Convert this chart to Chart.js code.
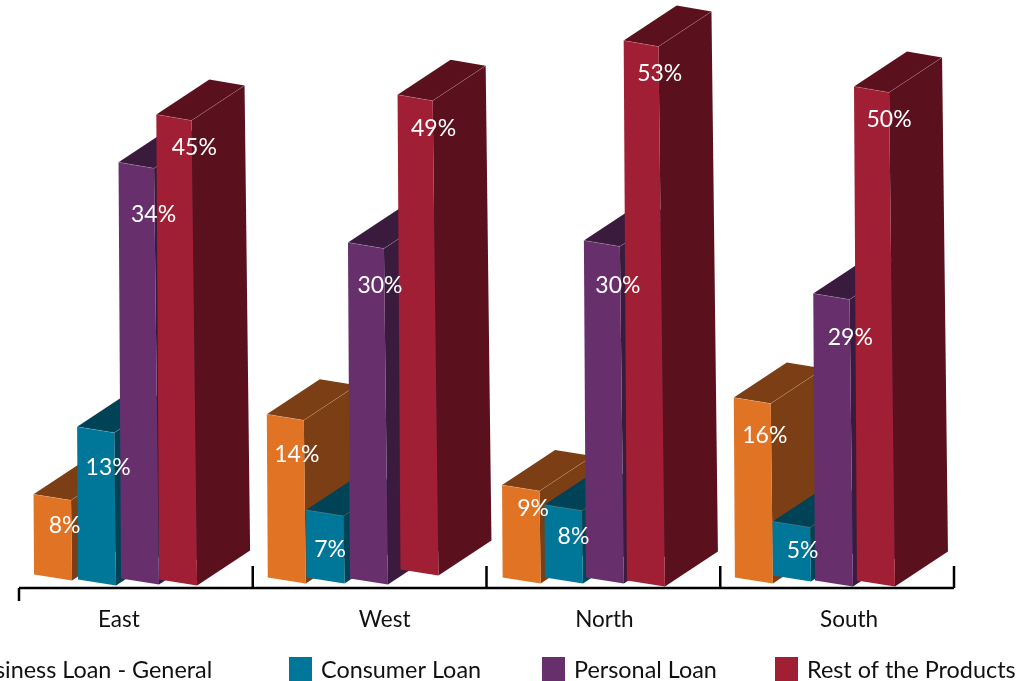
<!DOCTYPE html>
<html>
<head>
<meta charset="utf-8">
<title>Loan mix by region</title>
<script src="https://cdn.jsdelivr.net/npm/chart.js@4/dist/chart.umd.js"></script>
<style>
    html, body { margin: 0; padding: 0; background: #fff; overflow: hidden; }
    #chart { display: block; }
</style>
</head>
<body>
<canvas id="chart" width="1035" height="681"></canvas>
<script>
const categories = ["East", "West", "North", "South"];
const seriesNames = ["Business Loan - General", "Consumer Loan", "Personal Loan", "Rest of the Products"];

// --- Percentages printed on the bars ---
const businessLabels = [8, 14, 9, 16];
const consumerLabels = [13, 7, 8, 5];
const personalLabels = [34, 30, 30, 29];
const restLabels = [45, 49, 53, 50];

// --- Bar heights as drawn in the source, same % units ---
// the source graphic is not to scale with its printed labels
const businessHeights = [8.0, 15.7, 8.9, 17.3];
const consumerHeights = [14.5, 6.5, 7.0, 5.4];
const personalHeights = [39.9, 32.2, 32.4, 27.3];
const restHeights = [44.5, 46.4, 51.6, 47.2];

const frontColors = ["#E17325", "#007699", "#67306D", "#A01F34"];
const sideColors = ["#7C3E14", "#004256", "#3A1B3E", "#5A111D"];

// --- Look of the extruded bars ---
const FONT = 'Lato, "Noto Sans", sans-serif';
const DEPTH_X = 53, DEPTH_Y = -35;
const SHIFT_X = -20;        // fronts sit left of the band centre, depth fills the rest
const SKEW_Y = 6;           // right edge of a front sits lower than its left edge

// the source was hand placed, so each bar is a little off the even grid
// rows follow seriesNames, columns follow categories
const nudgeX = [[-0.6, -0.6, 0.5, -1], [1.9, -3.4, 1.3, -4.4], [3.4, -1.4, 0.8, -3.9], [0, 7.6, 0.3, -3.4]];
const nudgeBase = [[-3, 0, 0, 0], [2, 0, 0, -2], [1, 1, 0, 3], [2, -8, 3, 3]];
const labelDx = [[31, 30, 31, 31], [31, 24, 29, 30], [35, 32, 34, 37], [38, 36, 36, 35]];
const labelDy = [[31, 40, 24, 38], [41, 40, 32, 29], [52, 43, 45, 44], [33, 34, 33, 33]];
const axisLabelDx = [-17, 15, 1, 12];
const legendX = [-65, 289, 542, 775];

function quad(ctx, pts, color) {
    ctx.beginPath();
    ctx.moveTo(pts[0][0], pts[0][1]);
    pts.slice(1).forEach(p => ctx.lineTo(p[0], p[1]));
    ctx.closePath();
    ctx.fillStyle = color;
    ctx.fill();
}

function seam(ctx, a, b) {
    ctx.beginPath();
    ctx.moveTo(a[0], a[1]);
    ctx.lineTo(b[0], b[1]);
    ctx.strokeStyle = "rgba(255,255,255,0.22)";
    ctx.lineWidth = 0.7;
    ctx.stroke();
}

const bars3d = {
    id: "bars3d",
    beforeDatasetsDraw(chart) {
        const ctx = chart.ctx;
        const back = p => [p[0] + DEPTH_X, p[1] + DEPTH_Y];
        const topLeft = (bar, i, j) => {
            const left = bar.x - bar.width / 2 + SHIFT_X + nudgeX[i][j];
            return [left - (bar.base - bar.y) * 0.006, bar.y];
        };
        chart.data.datasets.forEach((ds, i) => {
            chart.getDatasetMeta(i).data.forEach((bar, j) => {
                const left = bar.x - bar.width / 2 + SHIFT_X + nudgeX[i][j];
                const bottom = bar.base + nudgeBase[i][j];
                const h = bar.base - bar.y;
                const bl = [left, bottom];
                const br = [left + bar.width, bottom + SKEW_Y];
                const tl = topLeft(bar, i, j);
                const tr = [left + bar.width - h * 0.012, bar.y + SKEW_Y];
                quad(ctx, [tr, back(tr), back(br), br], sideColors[i]);
                quad(ctx, [tl, back(tl), back(tr), tr], sideColors[i]);
                quad(ctx, [tl, tr, br, bl], frontColors[i]);
                seam(ctx, tr, back(tr));
                seam(ctx, tl, tr);
            });
        });
        // value labels go over every bar
        ctx.font = "23px " + FONT;
        ctx.fillStyle = "#fff";
        ctx.textAlign = "center";
        ctx.textBaseline = "middle";
        chart.data.datasets.forEach((ds, i) => {
            chart.getDatasetMeta(i).data.forEach((bar, j) => {
                const tl = topLeft(bar, i, j);
                ctx.fillText(ds.printed[j] + "%", tl[0] + labelDx[i][j], tl[1] + labelDy[i][j]);
            });
        });
        return false;
    }
};

const axisAndLegend = {
    id: "axisAndLegend",
    afterDraw(chart) {
        const ctx = chart.ctx;
        const xs = chart.scales.x;
        const band = (xs.right - xs.left) / categories.length;
        const y0 = chart.chartArea.bottom;

        ctx.strokeStyle = "#000";
        ctx.lineWidth = 2.5;
        ctx.beginPath();
        ctx.moveTo(xs.left, y0);
        ctx.lineTo(xs.right, y0);
        ctx.moveTo(xs.left, y0);
        ctx.lineTo(xs.left, y0 + 13);
        categories.forEach((c, i) => {
            const tx = xs.left + band * (i + 1);
            ctx.moveTo(tx, y0);
            ctx.lineTo(tx, y0 - 22);
        });
        ctx.stroke();

        ctx.font = "22.5px " + FONT;
        ctx.fillStyle = "#111";
        ctx.textBaseline = "middle";
        ctx.textAlign = "center";
        categories.forEach((c, i) => {
            ctx.fillText(c, xs.getPixelForTick(i) + axisLabelDx[i], 620);
        });

        ctx.font = "23.4px " + FONT;
        ctx.textAlign = "left";
        chart.data.datasets.forEach((ds, i) => {
            ctx.fillStyle = frontColors[i];
            ctx.fillRect(legendX[i], 657, 23, 24);
            ctx.fillStyle = "#111";
            ctx.fillText(ds.label, legendX[i] + 32, 670);
        });
    }
};

const heights = [businessHeights, consumerHeights, personalHeights, restHeights];
const printed = [businessLabels, consumerLabels, personalLabels, restLabels];

new Chart(document.getElementById("chart"), {
    type: "bar",
    data: {
        labels: categories,
        datasets: seriesNames.map((name, i) => ({
            label: name,
            data: heights[i],
            printed: printed[i],
            backgroundColor: frontColors[i],
            categoryPercentage: 0.71,
            barPercentage: 0.916
        }))
    },
    options: {
        responsive: false,
        animation: false,
        layout: { padding: { left: 19, right: 81, top: 0, bottom: 93 } },
        plugins: { legend: { display: false }, tooltip: { enabled: false } },
        scales: {
            x: { display: false },
            y: { display: false, min: -1, max: 55.5 }
        }
    },
    plugins: [bars3d, axisAndLegend]
});
</script>
</body>
</html>
